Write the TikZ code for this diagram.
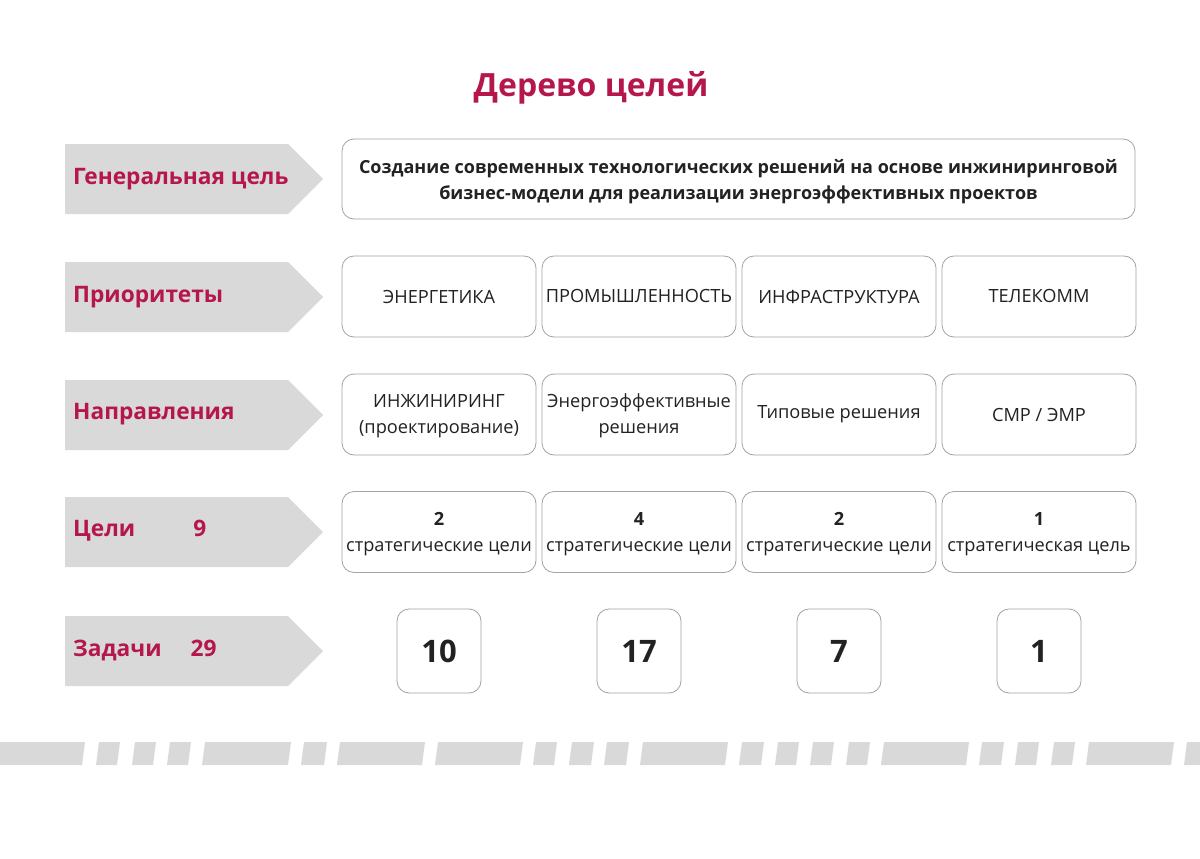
\documentclass[tikz,border=0pt]{standalone}
\usepackage{fontspec}
\setmainfont{Open Sans}
\definecolor{crim}{HTML}{B5164C}
\definecolor{arr}{HTML}{D9D9D9}
\definecolor{bord}{HTML}{A3A3A3}
\definecolor{txt}{HTML}{222222}
\begin{document}
\begin{tikzpicture}[x=1pt,y=-1pt,
  lbl/.style={anchor=west,text=crim,font=\fontsize{22.7}{26}\selectfont\bfseries,inner sep=0},
  cell/.style={draw=bord,line width=0.8pt,rounded corners=12pt,minimum width=194pt,minimum height=81pt,inner sep=0,align=center,text=txt,font=\fontsize{18.2}{26}\selectfont},
  celltext/.style={inner sep=0,align=center,text=txt,font=\fontsize{18.2}{26}\selectfont},
  numbox/.style={draw=bord,line width=0.8pt,rounded corners=12pt,minimum width=84pt,minimum height=84pt,inner sep=0,text=txt,font=\fontsize{31}{36}\selectfont\bfseries},
  stripe/.style={fill=arr}]
\useasboundingbox (0,0) rectangle (1200,859);
\fill[white] (0,0) rectangle (1200,859);
% title
\node[text=crim,font=\fontsize{32}{36}\selectfont\bfseries,inner sep=0] (title) at (591,88) {Дерево целей};
% arrows
\foreach \cy in {179,297,415,532,651}{
  \fill[arr] (65,\cy-35) -- (288,\cy-35) -- (323,\cy) -- (288,\cy+35) -- (65,\cy+35) -- cycle;
}
\node[lbl] (l1) at (73,179) {Генеральная цель};
\node[lbl] (l2) at (73,297) {Приоритеты};
\node[lbl] (l3) at (73,414) {Направления};
\node[lbl] (l4) at (73,531) {Цели\hspace{58pt}9};
\node[lbl] (l5) at (73,650) {Задачи\hspace{29pt}29};
% general goal
\node[draw=bord,line width=0.8pt,rounded corners=12pt,minimum width=793pt,minimum height=80pt,inner sep=0] (goal) at (738.5,179) {};
\node[inner sep=0,align=center,text=txt,font=\fontsize{18}{26}\selectfont\bfseries] (goaltext) at ([yshift=-3pt]goal.center) {Создание современных технологических решений на основе инжиниринговой\\бизнес-модели для реализации энергоэффективных проектов};
% priorities
\node[cell] (p1) at (439,296.5) {ЭНЕРГЕТИКА};
\node[cell] (p2) at (639,296.5) {ПРОМЫШЛЕННОСТЬ};
\node[cell] (p3) at (839,296.5) {ИНФРАСТРУКТУРА};
\node[cell] (p4) at (1039,296.5) {ТЕЛЕКОММ};
% directions
\node[cell] (d1) at (439,414.5) {};
\node[cell] (d2) at (639,414.5) {};
\node[cell] (d3) at (839,414.5) {Типовые решения};
\node[cell] (d4) at (1039,414.5) {СМР / ЭМР};
\node[celltext] (d1t) at ([yshift=-1.5pt]d1.center) {ИНЖИНИРИНГ\\(проектирование)};
\node[celltext] (d2t) at ([yshift=-1.5pt]d2.center) {Энергоэффективные\\решения};
% goals
\node[cell] (g1) at (439,532) {};
\node[cell] (g2) at (639,532) {};
\node[cell] (g3) at (839,532) {};
\node[cell] (g4) at (1039,532) {};
\node[celltext] (g1t) at ([yshift=-2pt]g1.center) {\textbf{2}\\стратегические цели};
\node[celltext] (g2t) at ([yshift=-2pt]g2.center) {\textbf{4}\\стратегические цели};
\node[celltext] (g3t) at ([yshift=-2pt]g3.center) {\textbf{2}\\стратегические цели};
\node[celltext] (g4t) at ([yshift=-2pt]g4.center) {\textbf{1}\\стратегическая цель};
% tasks
\node[numbox] (t1) at (439,651) {10};
\node[numbox] (t2) at (639,651) {17};
\node[numbox] (t3) at (839,651) {7};
\node[numbox] (t4) at (1039,651) {1};
% stripe
\foreach \a/\b in {-5/85,99/120,135/156,170/191,205/291,304/327,340/425,438/523,536/557,572/594,607/629,643/728,742/764,778/799,813/834,849/870,884/969,982/1004,1018/1039,1054/1075,1089/1174,1187/1210}{
  \fill[stripe] (\a,742) -- (\b,742) -- (\b-3,765) -- (\a-3,765) -- cycle;
}
\end{tikzpicture}
\end{document}
